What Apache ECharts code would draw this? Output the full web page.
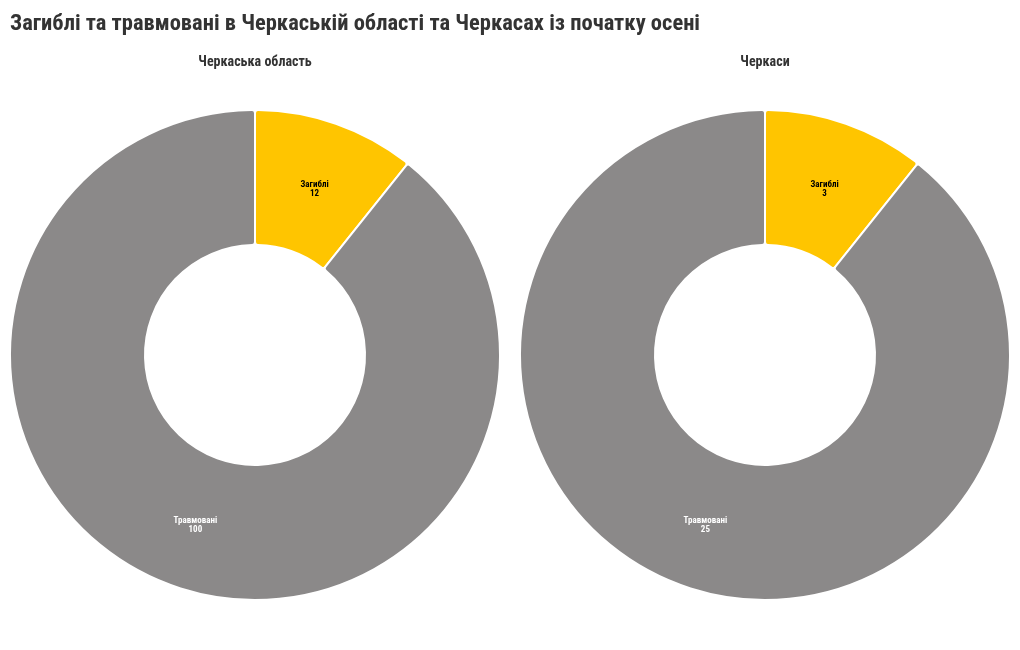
<!DOCTYPE html>
<html><head><meta charset="utf-8">
<script src="https://cdn.jsdelivr.net/npm/echarts@6/dist/echarts.min.js"></script>
<style>html,body{margin:0;padding:0;background:#fff}#c{width:1020px;height:650px}</style>
</head><body><div id="c"></div>
<script>
const categories = ['Загиблі', 'Травмовані'];
const regionValues = [12, 100];
const cityValues = [3, 25];
const panelTitles = ['Черкаська область', 'Черкаси'];
const colors = ['#FFC500', '#8B8989'];
const labelColors = ['#000', '#fff'];
const labelOffsets = [[0, 5], [0, 0]];
const FONT = '"Roboto Condensed","Liberation Sans Narrow","DejaVu Sans Condensed",Roboto,sans-serif';

function makeData(vals){
  return categories.map((c,i)=>({name:c, value:vals[i], itemStyle:{color:colors[i]}, label:{color:labelColors[i], offset:labelOffsets[i]}}));
}
function series(vals, cx){
  return {
    type:'pie', center:[cx, 355], radius:[110, 245], startAngle:90, clockwise:true,
    avoidLabelOverlap:false, silent:true,
    itemStyle:{borderColor:'#fff', borderWidth:2, borderRadius:3},
    label:{show:true, position:'inside', formatter:'{b}\n{c}', fontFamily:FONT, fontWeight:'bold', fontSize:9, lineHeight:9},
    labelLine:{show:false},
    data:makeData(vals)
  };
}
const chart = echarts.init(document.getElementById('c'), null, {renderer:'canvas'});
chart.setOption({
  animation:false,
  title:[
    {text:'Загиблі та травмовані в Черкаській області та Черкасах із початку осені', left:5, top:8,
     textStyle:{fontFamily:FONT, fontWeight:'bold', fontSize:22.5, color:'#333'}},
    {text:panelTitles[0], left:250, top:50, textAlign:'center', textStyle:{fontFamily:FONT, fontWeight:'bold', fontSize:14, color:'#333'}},
    {text:panelTitles[1], left:760, top:50, textAlign:'center', textStyle:{fontFamily:FONT, fontWeight:'bold', fontSize:14, color:'#333'}}
  ],
  series:[series(regionValues,255), series(cityValues,765)]
});
</script></body></html>
